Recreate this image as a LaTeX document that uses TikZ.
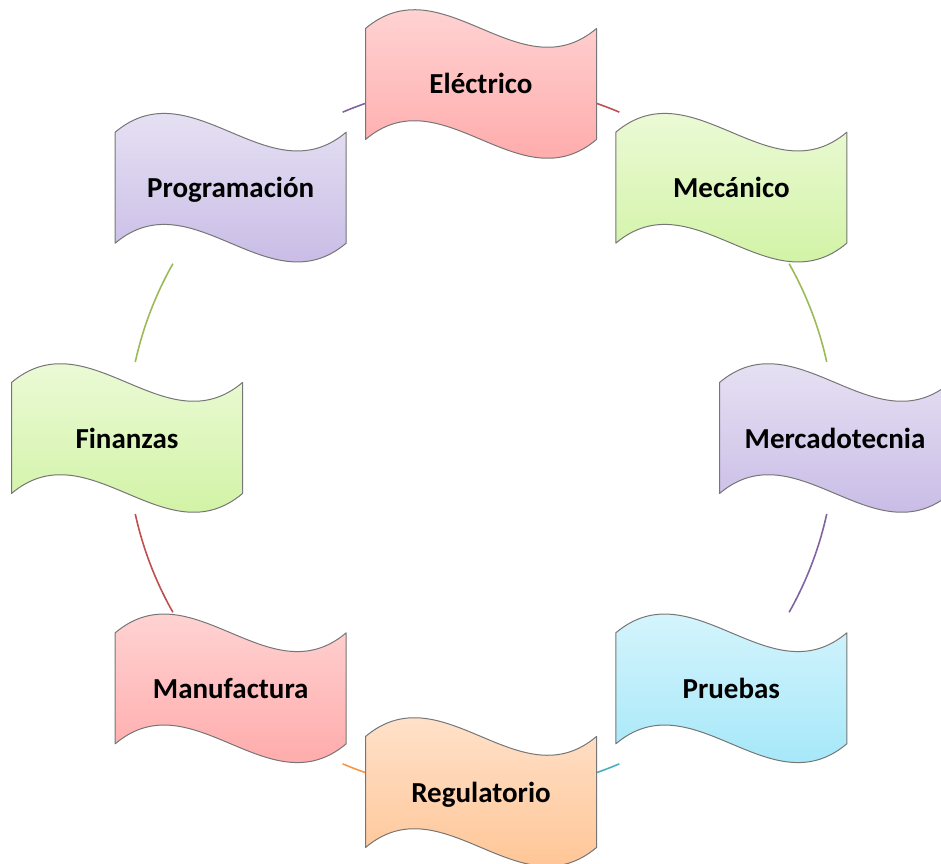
\documentclass[tikz,border=0pt]{standalone}
\usepackage{fontspec}
\setmainfont{Carlito}

% accent colours of the cycle
\definecolor{accred}{RGB}{192,80,77}
\definecolor{accgreen}{RGB}{155,187,89}
\definecolor{accpurple}{RGB}{128,100,162}
\definecolor{accaqua}{RGB}{75,172,198}
\definecolor{accorange}{RGB}{247,150,70}
% light gradient fills (top, bottom)
\definecolor{redtop}{RGB}{255,222,222}
\definecolor{redbot}{RGB}{255,160,160}
\definecolor{greentop}{RGB}{243,252,228}
\definecolor{greenbot}{RGB}{202,241,152}
\definecolor{purpletop}{RGB}{239,235,247}
\definecolor{purplebot}{RGB}{192,178,226}
\definecolor{aquatop}{RGB}{226,248,253}
\definecolor{aquabot}{RGB}{152,228,248}
\definecolor{orangetop}{RGB}{255,233,216}
\definecolor{orangebot}{RGB}{255,190,136}
\definecolor{edgegray}{RGB}{118,118,118}

\tikzset{
  % wave banner, 231 wide, centred on the pic origin
  pics/wave/.style 2 args={code={
    \shade[top color=#1, bottom color=#2, draw=edgegray, line width=1pt, line join=round]
      (-115.5,55.5) .. controls (-38.5,120.5) and (38.5,-9.5) .. (115.5,55.5)
      -- (115.5,-55.5) .. controls (38.5,-120.5) and (-38.5,9.5) .. (-115.5,-55.5) -- cycle;
  }},
  label/.style={font=\bfseries\fontsize{29}{35}\selectfont, text=black,
    text height=24pt, text depth=4pt, inner sep=0pt},
  link/.style={line width=1.6pt, draw=#1},
}

\begin{document}
\begin{tikzpicture}[x=1pt, y=1pt]
\useasboundingbox (0,0) rectangle (941,863);
\begin{scope}[shift={(481,425)}]
  % connector start points on the ring
  \coordinate (e-me) at (71:354);
  \coordinate (me-mr) at (29.5:354);
  \coordinate (mr-pr) at (-12.4:354);
  \coordinate (pr-re) at (-67:354);
  \coordinate (re-ma) at (-109:354);
  \coordinate (ma-fi) at (-150.5:354);
  \coordinate (fi-pg) at (167.6:354);
  \coordinate (pg-e) at (113:354);

  % ring segments between neighbouring banners
  \draw[link=accred]    (e-me)  arc[start angle=71,    end angle=67,    radius=354];
  \draw[link=accgreen]  (me-mr) arc[start angle=29.5,  end angle=12.4,  radius=354];
  \draw[link=accpurple] (mr-pr) arc[start angle=-12.4, end angle=-29.5, radius=354];
  \draw[link=accaqua]   (pr-re) arc[start angle=-67,   end angle=-71,   radius=354];
  \draw[link=accorange] (re-ma) arc[start angle=-109,  end angle=-113,  radius=354];
  \draw[link=accred]    (ma-fi) arc[start angle=-150.5,end angle=-167.6,radius=354];
  \draw[link=accgreen]  (fi-pg) arc[start angle=167.6, end angle=150.5, radius=354];
  \draw[link=accpurple] (pg-e)  arc[start angle=113,   end angle=109,   radius=354];

  % banners
  \pic at (90:354)   {wave={redtop}{redbot}};
  \pic at (45:354)   {wave={greentop}{greenbot}};
  \pic at (0:354)    {wave={purpletop}{purplebot}};
  \pic at (-45:354)  {wave={aquatop}{aquabot}};
  \pic at (-90:354)  {wave={orangetop}{orangebot}};
  \pic at (-135:354) {wave={redtop}{redbot}};
  \pic at (180:354)  {wave={greentop}{greenbot}};
  \pic at (135:354)  {wave={purpletop}{purplebot}};

  % banner texts
  \node[label] (elec) at (90:354)   {Eléctrico};
  \node[label] (meca) at (45:354)   {Mecánico};
  \node[label] (merc) at (0:354)    {Mercadotecnia};
  \node[label] (prue) at (-45:354)  {Pruebas};
  \node[label] (regu) at (-90:354)  {Regulatorio};
  \node[label] (manu) at (-135:354) {Manufactura};
  \node[label] (fina) at (180:354)  {Finanzas};
  \node[label] (prog) at (135:354)  {Programación};
\end{scope}
\end{tikzpicture}
\end{document}
